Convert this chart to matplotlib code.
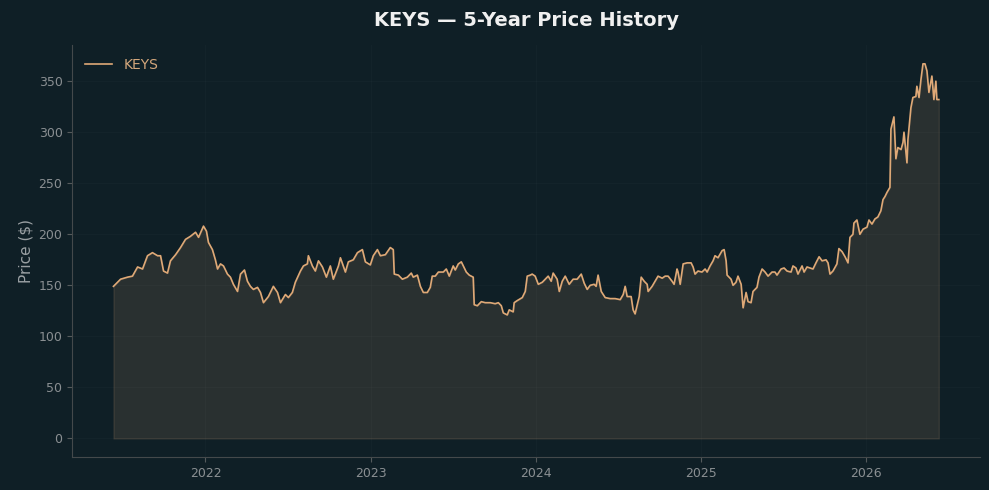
import numpy as np
import pandas as pd
import matplotlib
matplotlib.use("Agg")
import matplotlib.pyplot as plt

# Kleuren
bg = '#0f1f26'
lijn_kleur = '#dfa977'
tekst_grijs = '#8a8f92'

# Data (decimaal jaar, koers in $)
jaren = [
    2021.443, 2021.486, 2021.528, 2021.558, 2021.589, 2021.619, 2021.649, 2021.679, 2021.710, 2021.728,
    2021.746, 2021.770, 2021.788, 2021.819, 2021.849, 2021.879, 2021.909, 2021.940, 2021.958, 2021.988,
    2022.006, 2022.018, 2022.042, 2022.060, 2022.073, 2022.091, 2022.109, 2022.133, 2022.151, 2022.169,
    2022.194, 2022.212, 2022.236, 2022.254, 2022.272, 2022.290, 2022.315, 2022.333, 2022.351, 2022.381,
    2022.411, 2022.436, 2022.454, 2022.484, 2022.502, 2022.526, 2022.544, 2022.575, 2022.593, 2022.617,
    2022.623, 2022.647, 2022.665, 2022.684, 2022.708, 2022.732, 2022.756, 2022.774, 2022.805, 2022.817,
    2022.847, 2022.865, 2022.895, 2022.920, 2022.950, 2022.968, 2022.998, 2023.016, 2023.041, 2023.059,
    2023.089, 2023.119, 2023.137, 2023.143, 2023.168, 2023.192, 2023.222, 2023.246, 2023.258, 2023.283,
    2023.301, 2023.319, 2023.343, 2023.361, 2023.373, 2023.391, 2023.410, 2023.440, 2023.458, 2023.476,
    2023.500, 2023.512, 2023.531, 2023.549, 2023.561, 2023.579, 2023.597, 2023.621, 2023.627, 2023.646,
    2023.670, 2023.694, 2023.724, 2023.754, 2023.773, 2023.791, 2023.803, 2023.827, 2023.839, 2023.863,
    2023.869, 2023.887, 2023.918, 2023.936, 2023.948, 2023.966, 2023.978, 2023.996, 2024.015, 2024.039,
    2024.057, 2024.075, 2024.093, 2024.105, 2024.129, 2024.142, 2024.160, 2024.178, 2024.202, 2024.226,
    2024.250, 2024.275, 2024.293, 2024.311, 2024.329, 2024.353, 2024.365, 2024.377, 2024.396, 2024.420,
    2024.450, 2024.480, 2024.511, 2024.529, 2024.541, 2024.553, 2024.577, 2024.589, 2024.601, 2024.613,
    2024.626, 2024.638, 2024.656, 2024.674, 2024.680, 2024.704, 2024.722, 2024.740, 2024.765, 2024.783,
    2024.801, 2024.825, 2024.837, 2024.855, 2024.861, 2024.874, 2024.892, 2024.916, 2024.940, 2024.952,
    2024.964, 2024.982, 2025.006, 2025.025, 2025.037, 2025.055, 2025.073, 2025.085, 2025.103, 2025.128,
    2025.140, 2025.152, 2025.158, 2025.182, 2025.194, 2025.212, 2025.224, 2025.243, 2025.255, 2025.273,
    2025.285, 2025.303, 2025.315, 2025.339, 2025.351, 2025.370, 2025.388, 2025.406, 2025.430, 2025.448,
    2025.460, 2025.485, 2025.503, 2025.521, 2025.545, 2025.557, 2025.575, 2025.587, 2025.612, 2025.624,
    2025.642, 2025.660, 2025.678, 2025.696, 2025.715, 2025.733, 2025.757, 2025.769, 2025.781, 2025.799,
    2025.823, 2025.835, 2025.854, 2025.872, 2025.890, 2025.902, 2025.920, 2025.926, 2025.944, 2025.962,
    2025.981, 2026.005, 2026.017, 2026.035, 2026.053, 2026.071, 2026.089, 2026.102, 2026.114, 2026.126,
    2026.144, 2026.150, 2026.168, 2026.180, 2026.192, 2026.211, 2026.223, 2026.229, 2026.247, 2026.253,
    2026.271, 2026.283, 2026.301, 2026.307, 2026.320, 2026.332, 2026.344, 2026.356, 2026.368, 2026.380,
    2026.398, 2026.410, 2026.422, 2026.428, 2026.440,
]
koers = [
    149, 156, 158, 159, 168, 166, 179, 182, 179, 179,
    164, 162, 174, 180, 187, 195, 198, 202, 197, 208,
    203, 192, 185, 175, 166, 171, 169, 161, 158, 151,
    144, 161, 165, 154, 149, 146, 148, 143, 133, 139,
    149, 143, 133, 141, 138, 143, 153, 164, 169, 171,
    179, 169, 164, 174, 168, 158, 169, 156, 169, 177,
    163, 173, 175, 182, 185, 173, 170, 179, 185, 179,
    180, 187, 185, 161, 160, 156, 158, 162, 158, 160,
    149, 143, 143, 148, 159, 159, 163, 163, 166, 159,
    169, 165, 171, 173, 169, 163, 160, 158, 131, 130,
    134, 133, 133, 132, 133, 130, 123, 121, 126, 124,
    133, 135, 138, 144, 159, 160, 161, 159, 151, 153,
    156, 159, 154, 162, 156, 144, 154, 159, 151, 156,
    156, 161, 152, 146, 150, 151, 149, 160, 144, 138,
    137, 137, 136, 141, 149, 139, 139, 126, 122, 130,
    139, 158, 154, 151, 144, 149, 154, 159, 157, 159,
    159, 154, 151, 166, 163, 151, 171, 172, 172, 168,
    161, 164, 163, 166, 163, 169, 174, 179, 177, 184,
    185, 174, 160, 156, 150, 153, 159, 151, 128, 143,
    134, 133, 144, 148, 158, 166, 163, 159, 163, 163,
    160, 166, 167, 164, 163, 169, 167, 161, 169, 163,
    168, 167, 166, 172, 178, 174, 175, 172, 161, 164,
    171, 186, 183, 178, 172, 197, 200, 211, 214, 200,
    205, 207, 214, 210, 215, 217, 223, 234, 237, 241,
    246, 303, 315, 274, 285, 283, 290, 300, 270, 293,
    324, 334, 335, 345, 334, 352, 367, 367, 360, 339,
    355, 332, 350, 332, 332,
]

# Decimaal jaar naar datum
datums = pd.Timestamp('2022-01-01') + pd.to_timedelta((np.array(jaren) - 2022) * 365.25, unit='D')

fig, ax = plt.subplots(figsize=(9.89, 4.9), dpi=100)
fig.patch.set_facecolor(bg)
ax.set_facecolor(bg)
fig.subplots_adjust(left=0.073, right=0.991, bottom=0.067, top=0.908)

ax.fill_between(datums, 0, koers, color=lijn_kleur, alpha=0.13, linewidth=1.0)
ax.plot(datums, koers, color=lijn_kleur, linewidth=1.2, label='KEYS')

ax.set_title('KEYS — 5-Year Price History', color='#f0f0f0', fontsize=14, fontweight='bold', pad=14)
ax.set_ylabel('Price ($)', color='#9aa0a3', fontsize=11)

ax.set_yticks(range(0, 351, 50))
ax.tick_params(colors='#555a5c', labelcolor=tekst_grijs, labelsize=9)
for kant in ['top', 'right']:
    ax.spines[kant].set_visible(False)
for kant in ['left', 'bottom']:
    ax.spines[kant].set_color('#44494b')
ax.grid(True, color='#ffffff', alpha=0.02, linewidth=0.8)

leg = ax.legend(loc='upper left', frameon=False, fontsize=10)
for t in leg.get_texts():
    t.set_color('#d4a77c')

plt.savefig('out.png', dpi=100, facecolor=bg)
